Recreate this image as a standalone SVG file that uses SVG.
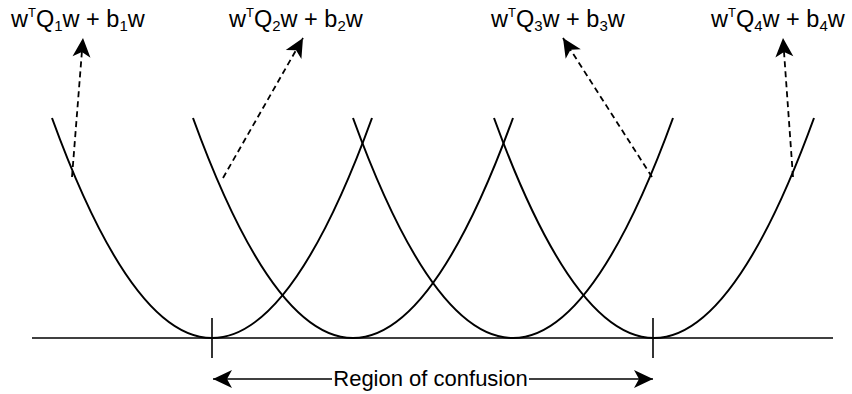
<svg xmlns="http://www.w3.org/2000/svg" width="852" height="394" viewBox="0 0 852 394">
<style>
.curve{fill:none;stroke:#000;stroke-width:2}
.axis{fill:none;stroke:#000;stroke-width:1.6}
.dash{fill:none;stroke:#000;stroke-width:1.8;stroke-dasharray:6 4}
.solid{fill:none;stroke:#000;stroke-width:1.6}
text{font-family:"Liberation Sans",Arial,sans-serif;font-size:23.5px;fill:#000}
.sup{font-size:13px}
.sub{font-size:15px}
.region{font-size:22px}
</style>
<defs>
<marker id="ah" viewBox="-20 -10 21 20" refX="0" refY="0" markerWidth="21" markerHeight="20" markerUnits="userSpaceOnUse" orient="auto">
<path d="M0,0 L-19,-9 L-14,0 L-19,9 Z" fill="#000"/>
</marker>
</defs>
<rect width="852" height="394" fill="#fff"/>
<g id="axis">
<line class="axis" x1="32" y1="338" x2="833" y2="338"/>
<line class="axis" x1="212" y1="318" x2="212" y2="358"/>
<line class="axis" x1="653" y1="318" x2="653" y2="358"/>
</g>
<g id="curve1"><path class="curve" d="M52,118 Q212,558 372,118"/></g>
<g id="curve2"><path class="curve" d="M193,118 Q353,558 513,118"/></g>
<g id="curve3"><path class="curve" d="M353,118 Q513,558 673,118"/></g>
<g id="curve4"><path class="curve" d="M494,118 Q654,558 814,118"/></g>
<g id="label1"><text x="11" y="27">w<tspan class="sup" dy="-10">T</tspan><tspan dy="10">Q</tspan><tspan class="sub" dy="4">1</tspan><tspan dy="-4">w + b</tspan><tspan class="sub" dy="4">1</tspan><tspan dy="-4">w</tspan></text></g>
<g id="label2"><text x="229" y="27">w<tspan class="sup" dy="-10">T</tspan><tspan dy="10">Q</tspan><tspan class="sub" dy="4">2</tspan><tspan dy="-4">w + b</tspan><tspan class="sub" dy="4">2</tspan><tspan dy="-4">w</tspan></text></g>
<g id="label3"><text x="491" y="27">w<tspan class="sup" dy="-10">T</tspan><tspan dy="10">Q</tspan><tspan class="sub" dy="4">3</tspan><tspan dy="-4">w + b</tspan><tspan class="sub" dy="4">3</tspan><tspan dy="-4">w</tspan></text></g>
<g id="label4"><text x="711" y="27">w<tspan class="sup" dy="-10">T</tspan><tspan dy="10">Q</tspan><tspan class="sub" dy="4">4</tspan><tspan dy="-4">w + b</tspan><tspan class="sub" dy="4">4</tspan><tspan dy="-4">w</tspan></text></g>
<g id="region"><text class="region" x="430.5" y="386" text-anchor="middle">Region of confusion</text></g>
<g id="connectors">
<line class="dash" x1="72" y1="177" x2="83" y2="38" marker-end="url(#ah)"/>
<line class="dash" x1="223" y1="178" x2="303" y2="38" marker-end="url(#ah)"/>
<line class="dash" x1="652" y1="177" x2="563" y2="38" marker-end="url(#ah)"/>
<line class="dash" x1="793" y1="177" x2="783" y2="38" marker-end="url(#ah)"/>
<line class="solid" x1="332" y1="379" x2="213" y2="379" marker-end="url(#ah)"/>
<line class="solid" x1="529" y1="379" x2="653" y2="379" marker-end="url(#ah)"/>
</g>
</svg>
